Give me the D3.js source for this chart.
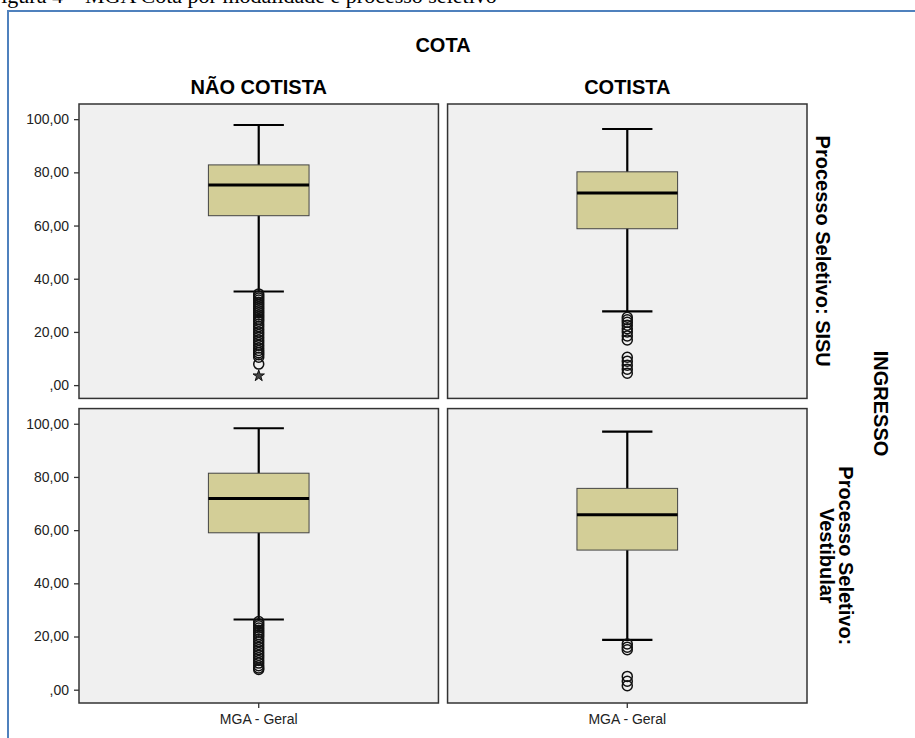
<!DOCTYPE html>
<html>
<head>
<meta charset="utf-8">
<script src="https://cdn.jsdelivr.net/npm/d3@7"></script>
<style>
  body { margin: 0; background: #fff; overflow: hidden; }
  text { font-family: Arial, "Liberation Sans", sans-serif; }
</style>
</head>
<body>
<div id="chart"></div>
<script>

// column / row facets
const cotaTitle = "COTA";
const cotaCats = ["NÃO COTISTA", "COTISTA"];
const ingressoTitle = "INGRESSO";
const ingressoCats = [["Processo Seletivo: SISU"], ["Processo Seletivo:", "Vestibular"]];
const variableName = "MGA - Geral";
const yTicks = [0, 20, 40, 60, 80, 100];
const caption = "Figura 4 – MGA Cota por modalidade e processo seletivo";

// panel order: SISU/não cotista, SISU/cotista, vestibular/não cotista, vestibular/cotista
const whiskerLow  = [35.2, 27.7, 26.4, 18.7];
const q1          = [63.7, 58.8, 59.0, 52.5];
const median      = [75.2, 72.2, 71.9, 65.8];
const q3          = [82.8, 80.2, 81.4, 75.7];
const whiskerHigh = [97.8, 96.3, 98.3, 97.0];
const outliers = [
  [34.3, 33.5, 32.8, 32, 31.2, 30.4, 29.6, 28.8, 28, 27.2, 26.4, 25.6, 24.8, 24, 23, 22, 21, 20, 19, 18, 17, 16, 15, 14, 13, 12.2, 11.4, 10.5, 7.9],
  [25.5, 24.6, 23.6, 22.5, 21.2, 20, 18.5, 17, 10.5, 9, 7.5, 6, 4.5],
  [25.6, 24.8, 24, 23.2, 22.4, 21.6, 20.8, 20, 19, 18, 17, 16, 15, 14, 13, 12, 11, 10, 9, 8.2, 7.6],
  [17.2, 16, 15, 5, 3.2, 1.5]
];
const extremes = [[3.5], [], [], []];

const width = 915;
const height = 738;
const plotLeft = 79, plotRight = 807, plotTop = 104, plotBottom = 703;
const gapX = 9, gapY = 10;

const svg = d3.select("#chart")
  .append("svg")
    .attr("width", width)
    .attr("height", height);

svg.append("rect").attr("width", width).attr("height", height).attr("fill", "#fff");

// caption, cut off at the top of the image as in the source
svg.append("text")
  .attr("x", -11)
  .attr("y", 3)
  .style("font-family", "'Liberation Serif', 'Times New Roman', serif")
  .style("font-size", "22px")
  .text(caption);

// blue frame
svg.append("rect")
  .attr("x", 8).attr("y", 11)
  .attr("width", 940).attr("height", 760)
  .attr("fill", "#fff")
  .attr("stroke", "#4f81bd")
  .attr("stroke-width", 2);

const colScale = d3.scaleBand().domain(d3.range(cotaCats.length)).range([plotLeft, plotRight]).paddingInner(gapX / ((plotRight - plotLeft) / 2));
const rowScale = d3.scaleBand().domain(d3.range(ingressoCats.length)).range([plotTop, plotBottom]).paddingInner(gapY / ((plotBottom - plotTop) / 2));
const pw = colScale.bandwidth();
const ph = rowScale.bandwidth();

const y = d3.scaleLinear().domain([-5, 105.7]).range([ph, 0]);
const x = d3.scaleBand().domain([variableName]).range([0, pw]);
const boxW = pw * 0.28;
const capW = boxW * 0.5;

const fmt = d => d === 0 ? ",00" : d.toFixed(2).replace(".", ",");

// headers
svg.append("text")
  .attr("x", (plotLeft + plotRight) / 2)
  .attr("y", 52)
  .attr("text-anchor", "middle")
  .style("font-size", "20px")
  .style("font-weight", "bold")
  .text(cotaTitle);

svg.selectAll(".colhead")
  .data(cotaCats)
  .enter()
  .append("text")
    .attr("class", "colhead")
    .attr("x", (d, i) => colScale(i) + pw / 2)
    .attr("y", 94)
    .attr("text-anchor", "middle")
    .style("font-size", "20px")
    .style("font-weight", "bold")
    .text(d => d);

svg.append("text")
  .attr("transform", `translate(874, ${(plotTop + plotBottom) / 2}) rotate(90)`)
  .attr("text-anchor", "middle")
  .style("font-size", "20px")
  .style("font-weight", "bold")
  .text(ingressoTitle);

ingressoCats.forEach((lines, r) => {
  const t = svg.append("text")
    .attr("transform", `translate(${lines.length > 1 ? 839 : 816}, ${rowScale(r) + ph / 2}) rotate(90)`)
    .attr("text-anchor", "middle")
    .style("font-size", "20px")
    .style("font-weight", "bold");
  lines.forEach((l, k) => {
    t.append("tspan").attr("x", 0).attr("dy", k === 0 ? 0 : "0.95em").text(l);
  });
});

// panels
for (let r = 0; r < ingressoCats.length; r++) {
  for (let c = 0; c < cotaCats.length; c++) {
    const i = r * cotaCats.length + c;
    const g = svg.append("g").attr("transform", `translate(${colScale(c)}, ${rowScale(r)})`);

    g.append("rect")
      .attr("width", pw).attr("height", ph)
      .attr("fill", "#f0f0f0")
      .attr("stroke", "#333")
      .attr("stroke-width", 1.5);

    if (c === 0) {
      const ax = g.append("g")
        .call(d3.axisLeft(y).tickValues(yTicks).tickFormat(fmt).tickSize(5).tickPadding(5));
      ax.select(".domain").remove();
      ax.selectAll("line").attr("stroke", "#333").attr("stroke-width", 1.3);
      ax.selectAll("text").style("font-size", "14px").style("font-family", "Arial, 'Liberation Sans', sans-serif").attr("fill", "#222");
    }

    if (r === ingressoCats.length - 1) {
      const bx = g.append("g")
        .attr("transform", `translate(0, ${ph})`)
        .call(d3.axisBottom(x).tickSize(5).tickPadding(6));
      bx.select(".domain").remove();
      bx.selectAll("line").attr("stroke", "#333").attr("stroke-width", 1.3);
      bx.selectAll("text").style("font-size", "14px").style("font-family", "Arial, 'Liberation Sans', sans-serif").attr("fill", "#222");
    }

    const cx = x(variableName) + x.bandwidth() / 2;

    // whisker
    g.append("line")
      .attr("x1", cx).attr("x2", cx)
      .attr("y1", y(whiskerLow[i])).attr("y2", y(whiskerHigh[i]))
      .attr("stroke", "#000").attr("stroke-width", 2.2);
    [whiskerLow[i], whiskerHigh[i]].forEach(v => {
      g.append("line")
        .attr("x1", cx - capW / 2).attr("x2", cx + capW / 2)
        .attr("y1", y(v)).attr("y2", y(v))
        .attr("stroke", "#000").attr("stroke-width", 2.2);
    });

    // box
    g.append("rect")
      .attr("x", cx - boxW / 2)
      .attr("y", y(q3[i]))
      .attr("width", boxW)
      .attr("height", y(q1[i]) - y(q3[i]))
      .attr("fill", "#d3ce97")
      .attr("stroke", "#444")
      .attr("stroke-width", 1);

    g.append("line")
      .attr("x1", cx - boxW / 2).attr("x2", cx + boxW / 2)
      .attr("y1", y(median[i])).attr("y2", y(median[i]))
      .attr("stroke", "#000").attr("stroke-width", 3);

    g.selectAll(".out")
      .data(outliers[i])
      .enter()
      .append("circle")
        .attr("class", "out")
        .attr("cx", cx)
        .attr("cy", d => y(d))
        .attr("r", 5)
        .attr("fill", "none")
        .attr("stroke", "#111")
        .attr("stroke-width", 1.5);

    g.selectAll(".ext")
      .data(extremes[i])
      .enter()
      .append("path")
        .attr("class", "ext")
        .attr("transform", d => `translate(${cx}, ${y(d)})`)
        .attr("d", d3.symbol(d3.symbolStar, 40))
        .attr("fill", "#444")
        .attr("stroke", "#111")
        .attr("stroke-width", 1);
  }
}

</script>
</body>
</html>
